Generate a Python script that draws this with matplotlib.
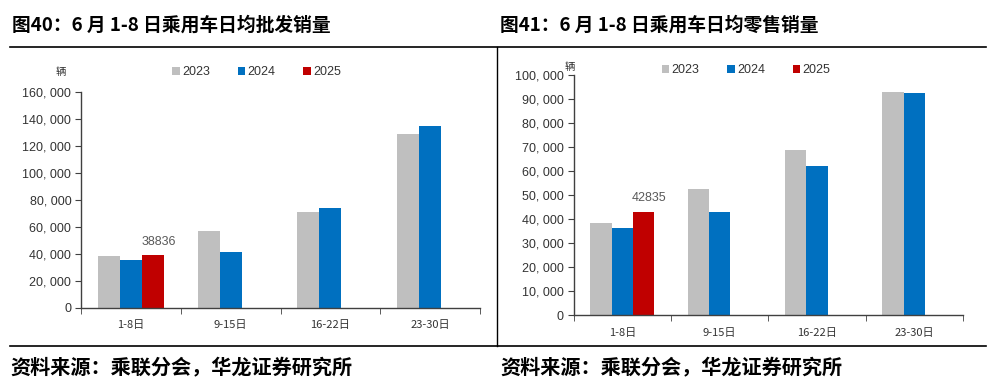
import numpy as np
import matplotlib
matplotlib.use('Agg')
import matplotlib.pyplot as plt
from matplotlib.lines import Line2D
from matplotlib.ticker import FuncFormatter

plt.rcParams['font.family'] = ['Liberation Sans', 'Noto Sans CJK SC', 'DejaVu Sans']

# Data
periods = ['1-8日', '9-15日', '16-22日', '23-30日']
years = ['2023', '2024', '2025']
colors = ['#BFBFBF', '#0070C0', '#C00000']

wholesale_2023 = [38500, 57000, 71000, 128400]
wholesale_2024 = [35000, 41500, 73600, 134600]
wholesale_2025 = [38836, np.nan, np.nan, np.nan]

retail_2023 = [38200, 52400, 68600, 92800]
retail_2024 = [36100, 43000, 62100, 92600]
retail_2025 = [42835, np.nan, np.nan, np.nan]

fig = plt.figure(figsize=(9.93, 3.81), dpi=100)

cjk = ['Noto Sans CJK SC', 'DejaVu Sans']


def draw_panel(ax, series, ymax, ystep, label_value, label_dy):
    x = np.arange(len(periods))
    w = 0.22
    for i, vals in enumerate(series):
        ax.bar(x + (i - 1) * w, vals, width=w, color=colors[i], label=years[i])
    ax.set_xlim(-0.5, len(periods) - 0.5)
    ax.set_ylim(0, ymax)
    ax.set_yticks(np.arange(0, ymax + 1, ystep))
    ax.yaxis.set_major_formatter(FuncFormatter(lambda v, p: f'{int(v):,}'.replace(',', ', ')))
    ax.set_xticks(x)
    ax.set_xticklabels(periods, family=cjk, fontsize=8, color='#333333')
    ax.set_xticks(np.arange(-0.5, len(periods)), minor=True)
    ax.tick_params(axis='x', which='major', length=0, pad=9)
    ax.tick_params(axis='x', which='minor', length=4, direction='out', color='#404040')
    ax.tick_params(axis='y', length=4, direction='out', color='#404040', labelsize=9,
                   labelcolor='#333333', pad=3)
    for s in ['top', 'right']:
        ax.spines[s].set_visible(False)
    for s in ['left', 'bottom']:
        ax.spines[s].set_color('#404040')
        ax.spines[s].set_linewidth(1.0)
    ax.annotate(f'{label_value}', xy=(0 + w, label_value), xytext=(4, label_dy),
                textcoords='offset points', ha='center', va='bottom', fontsize=9, color='#595959')
    return ax


# Left panel: wholesale
ax1 = fig.add_axes([0.0816, 0.1924, 0.4018, 0.5669])
draw_panel(ax1, [wholesale_2023, wholesale_2024, wholesale_2025], 160000, 20000, 38836, 5)
ax1.legend(loc='center', bbox_to_anchor=(0.44, 1.09), ncol=3, frameon=False, fontsize=9,
           handlelength=0.6, handleheight=0.6, handletextpad=0.2, columnspacing=2.2,
           labelcolor='#333333')
ax1.text(-0.05, 1.09, '辆', transform=ax1.transAxes, family=cjk, fontsize=7.5,
         color='#333333', ha='center', va='center')

# Right panel: retail
ax2 = fig.add_axes([0.5777, 0.1732, 0.392, 0.63])
draw_panel(ax2, [retail_2023, retail_2024, retail_2025], 100000, 10000, 42835, 6)
ax2.legend(loc='center', bbox_to_anchor=(0.443, 1.021), ncol=3, frameon=False, fontsize=9,
           handlelength=0.6, handleheight=0.6, handletextpad=0.2, columnspacing=2.2,
           labelcolor='#333333')
ax2.text(-0.01, 1.035, '辆', transform=ax2.transAxes, family=cjk, fontsize=7.5,
         color='#333333', ha='center', va='center')

# Titles
fig.text(12 / 993, 1 - 25 / 381, '图40：6 月 1-8 日乘用车日均批发销量', family=cjk,
         fontsize=13.5, fontweight='bold', ha='left', va='center')
fig.text(500 / 993, 1 - 25 / 381, '图41：6 月 1-8 日乘用车日均零售销量', family=cjk,
         fontsize=13.5, fontweight='bold', ha='left', va='center')

# Sources
fig.text(10 / 993, 1 - 367 / 381, '资料来源：乘联分会，华龙证券研究所', family=cjk,
         fontsize=14.5, fontweight='bold', ha='left', va='center')
fig.text(500 / 993, 1 - 367 / 381, '资料来源：乘联分会，华龙证券研究所', family=cjk,
         fontsize=14.5, fontweight='bold', ha='left', va='center')

# Frame lines
fig.add_artist(Line2D([10 / 993, 986 / 993], [1 - 47 / 381, 1 - 47 / 381], color='black', lw=1.2))
fig.add_artist(Line2D([10 / 993, 986 / 993], [1 - 346 / 381, 1 - 346 / 381], color='black', lw=1.2))
fig.add_artist(Line2D([497 / 993, 497 / 993], [1 - 47 / 381, 1 - 346 / 381], color='black', lw=1.0))

fig.savefig('out.png', dpi=100)
